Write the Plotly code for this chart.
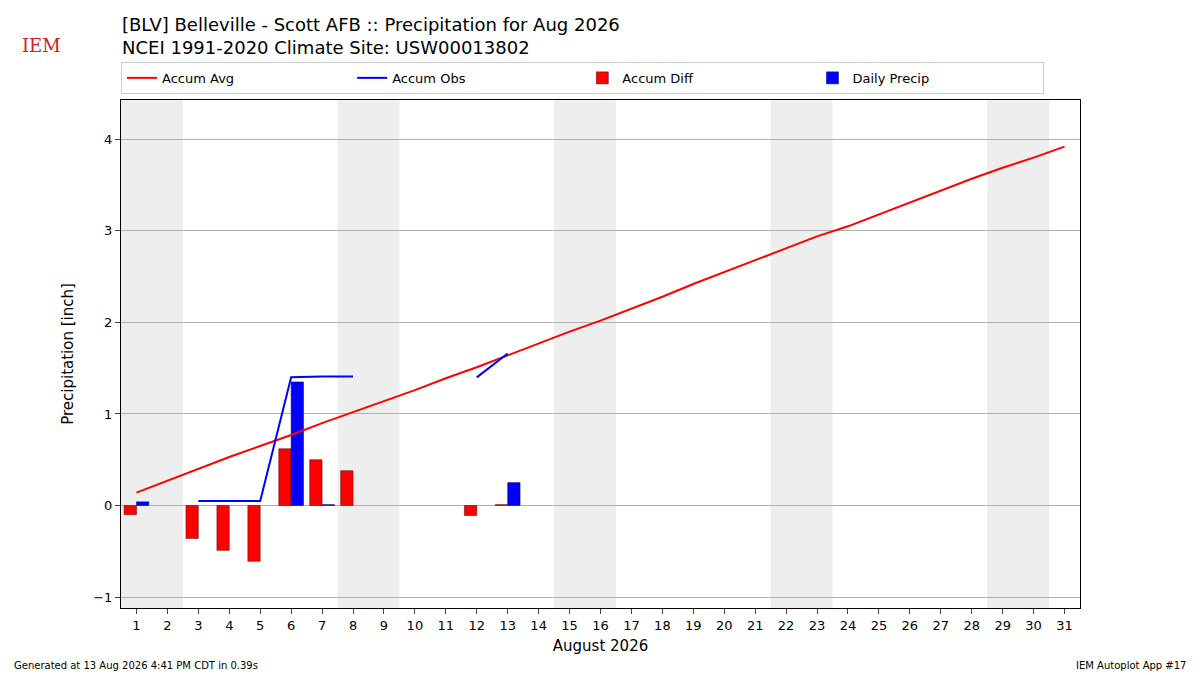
import plotly.graph_objects as go

days = list(range(1, 32))
accum_avg = [0.14,0.27,0.40,0.53,0.65,0.77,0.90,1.02,1.14,1.26,1.39,1.51,1.64,1.77,1.90,2.02,2.15,2.28,2.42,2.55,2.68,2.81,2.94,3.05,3.18,3.31,3.44,3.57,3.69,3.80,3.92]
obs_days = [1,2,3,4,5,6,7,8,9,10,11,12,13]
accum_obs = [None,None,0.05,0.05,0.05,1.40,1.41,1.41,None,None,None,1.40,1.66]
diff_days = [1,3,4,5,6,7,8,12,13]
accum_diff = [-0.10,-0.36,-0.49,-0.61,0.62,0.50,0.38,-0.11,0.01]
precip_days = [1,6,7,13]
daily_precip = [0.04,1.35,0.01,0.25]
weekends = [(0.5,2.5),(7.5,9.5),(14.5,16.5),(21.5,23.5),(28.5,30.5)]

fig = go.Figure()
fig.add_trace(go.Scatter(x=days, y=accum_avg, mode="lines", name="Accum Avg", line=dict(color="red", width=2)))
fig.add_trace(go.Scatter(x=obs_days, y=accum_obs, mode="lines", name="Accum Obs", line=dict(color="blue", width=2)))
fig.add_trace(go.Bar(x=[d-0.2 for d in diff_days], y=accum_diff, width=0.4, name="Accum Diff", marker=dict(color="red", line=dict(width=0.5, color="#550000"))))
fig.add_trace(go.Bar(x=[d+0.2 for d in precip_days], y=daily_precip, width=0.4, name="Daily Precip", marker=dict(color="blue", line=dict(width=0.5, color="#000055"))))
for a, b in weekends:
    fig.add_vrect(x0=a, x1=b, fillcolor="#eeeeee", line_width=0, layer="below")

fig.update_layout(
    width=1200, height=675, plot_bgcolor="white", paper_bgcolor="white",
    font=dict(family="DejaVu Sans", size=13, color="black"),
    margin=dict(l=113, r=128, t=92, b=75, autoexpand=False),
    barmode="overlay", showlegend=True,
    legend=dict(orientation="h", x=0, y=1.012, xanchor="left", yanchor="bottom", bordercolor="#cccccc", borderwidth=1,
                entrywidthmode="fraction", entrywidth=0.24, font=dict(size=13), tracegroupgap=0),
    xaxis=dict(range=[0.5, 31.5], tickmode="array", tickvals=days, ticktext=[str(d) for d in days],
               showgrid=False, showline=True, mirror=True, linecolor="black", ticks="outside",
               title=dict(text="August 2026", font=dict(size=15), standoff=8)),
    yaxis=dict(range=[-1.12, 4.43], tickvals=[-1,0,1,2,3,4], ticktext=["\u22121","0","1","2","3","4"],
               showgrid=True, gridcolor="#b0b0b0", zeroline=False, showline=True, mirror=True, linecolor="black", ticks="outside",
               title=dict(text="Precipitation [inch]", font=dict(size=15))),
)
fig.add_annotation(text="[BLV] Belleville - Scott AFB :: Precipitation for Aug 2026<br>NCEI 1991-2020 Climate Site: USW00013802",
                   xref="paper", yref="paper", x=-0.001, y=1.0, yshift=88, xanchor="left", yanchor="top",
                   showarrow=False, align="left", font=dict(size=18))
fig.add_annotation(text="IEM", xref="paper", yref="paper", x=0.0, xshift=-101, y=1.0, yshift=55, xanchor="left", yanchor="middle",
                   showarrow=False, font=dict(size=18, color="#cc2222", family="DejaVu Serif"))
fig.add_annotation(text="Generated at 13 Aug 2026 4:41 PM CDT in 0.39s", xref="paper", yref="paper", x=0, xshift=-109, y=0, yshift=-57,
                   xanchor="left", yanchor="middle", showarrow=False, font=dict(size=10))
fig.add_annotation(text="IEM Autoplot App #17", xref="paper", yref="paper", x=1, xshift=108, y=0, yshift=-57,
                   xanchor="right", yanchor="middle", showarrow=False, font=dict(size=10))
fig.write_html("out.html")
